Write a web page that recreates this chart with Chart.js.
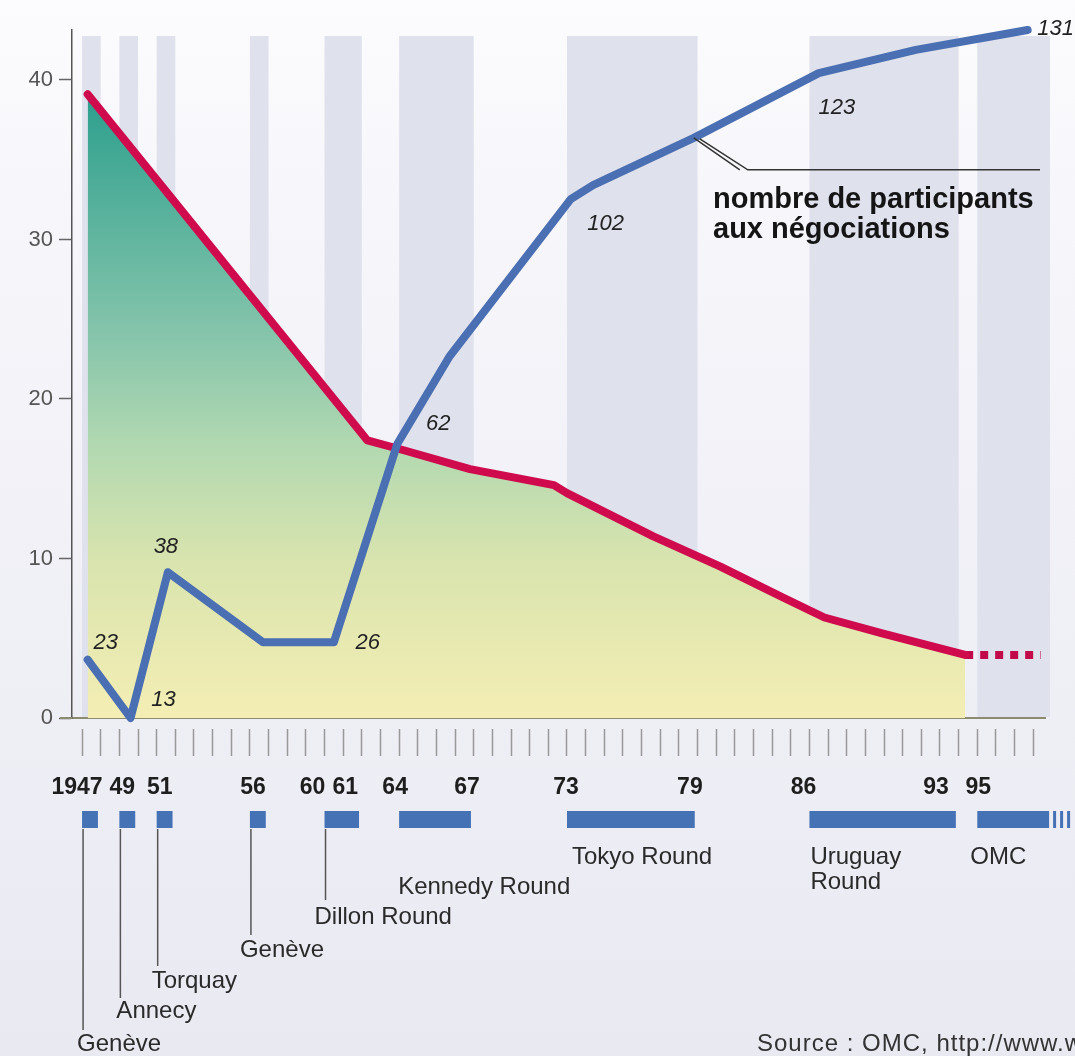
<!DOCTYPE html>
<html lang="fr">
<head>
<meta charset="utf-8">
<title>GATT / OMC - droits de douane et participants</title>
<script src="https://cdn.jsdelivr.net/npm/chart.js@4.4.1/dist/chart.umd.min.js"></script>
<style>
  html, body { margin: 0; padding: 0; background: #f3f3f8; }
  #wrap { width: 1075px; height: 1056px; }
</style>
</head>
<body>
<div id="wrap"><canvas id="gattChart" width="1075" height="1056"></canvas></div>
<script>
// droits de douane moyens (%), courbe rouge
const tariffYears = [1947.3, 1962.3, 1964.2, 1967.8, 1972.3, 1973.0, 1977.6, 1981.2, 1984.5, 1986.8, 1989.9, 1994.35];
const tariffValues = [39.1, 17.4, 16.8, 15.6, 14.6, 14.1, 11.4, 9.5, 7.6, 6.3, 5.3, 3.95];
// prolongement en pointillés
const tariffFutureYears = [1994.35, 1998.4];
const tariffFutureValues = [3.95, 3.95];

// nombre de participants aux négociations, courbe bleue
const partYears = [1947.3, 1949.6, 1951.6, 1956.7, 1960.5, 1963.9, 1966.7, 1973.2, 1974.4, 1979.8, 1986.5, 1991.7, 1997.7];
const partValues = [23, 13, 38, 26, 26, 60, 75, 102, 104.4, 112.5, 123.6, 127.6, 131];
const partLabels = ['23', '13', '38', '', '26', '62', '', '102', '', '', '123', '', '131'];

// cycles de négociation
const roundStart = [1947, 1949, 1951, 1956, 1960, 1964, 1973, 1986, 1995];
const roundEnd = [1947, 1949, 1951, 1956, 1961, 1967, 1979, 1993, 1998];
const roundNames = ['Genève', 'Annecy', 'Torquay', 'Genève', 'Dillon Round', 'Kennedy Round', 'Tokyo Round', 'Uruguay\nRound', 'OMC'];

// axes
const yearLabelValues = [1947, 1949, 1951, 1956, 1960, 1961, 1964, 1967, 1973, 1979, 1986, 1993, 1995];
const yearLabels = ['1947', '49', '51', '56', '60', '61', '64', '67', '73', '79', '86', '93', '95'];
const yTickValues = [0, 10, 20, 30, 40];

const FONT = "'Liberation Sans', Arial, sans-serif";
Chart.defaults.font.family = FONT;

const tickYears = [];
for (let yr = 1947; yr <= 1998; yr++) tickYears.push(yr);

const gattPlugin = {
    id: 'gatt',
    beforeDraw(chart) {
        const { ctx, chartArea: ca } = chart;
        const x = chart.scales.x;
        ctx.save();
        const bg = ctx.createLinearGradient(0, 0, 0, chart.height);
        bg.addColorStop(0, '#fcfcfe');
        bg.addColorStop(0.25, '#f5f5fa');
        bg.addColorStop(1, '#e9e9f2');
        ctx.fillStyle = bg;
        ctx.fillRect(0, 0, chart.width, chart.height);

        // bandes grises des cycles
        ctx.fillStyle = '#dfe1ed';
        roundStart.forEach((s, i) => {
            const x0 = x.getPixelForValue(s);
            const x1 = Math.min(x.getPixelForValue(roundEnd[i] + 1), ca.right + 5);
            ctx.fillRect(x0, ca.top + 6, x1 - x0, ca.bottom - ca.top - 7);
        });
        ctx.restore();
    },
    afterDraw(chart) {
        const { ctx, chartArea: ca } = chart;
        const x = chart.scales.x;
        ctx.save();

        // petit prolongement de l'axe à gauche
        ctx.strokeStyle = '#8b8b70';
        ctx.lineWidth = 2;
        ctx.beginPath();
        ctx.moveTo(60, ca.bottom);
        ctx.lineTo(ca.left, ca.bottom);
        ctx.stroke();

        // barres des cycles sous l'axe
        ctx.fillStyle = '#4571b5';
        roundStart.forEach((s, i) => {
            const x0 = x.getPixelForValue(s);
            const x1 = x.getPixelForValue(roundEnd[i] + 0.85);
            ctx.fillRect(x0, 811, x1 - x0, 17);
            if (i === roundStart.length - 1) {
                [4, 11, 18].forEach(d => ctx.fillRect(x1 + d, 811, 3, 17));
            }
        });

        // années
        const yearNudge = [-5, 3, 3, 3, -12, 2, -4, 12, -1, 11, -6, -4, 1];
        ctx.fillStyle = '#1e1e1e';
        ctx.font = 'bold 23px ' + FONT;
        ctx.textAlign = 'center';
        ctx.textBaseline = 'middle';
        yearLabelValues.forEach((yr, i) => {
            ctx.fillText(yearLabels[i], x.getPixelForValue(yr) + yearNudge[i], 788);
        });

        // noms des cycles, avec traits de rappel pour les premiers
        const lineEnd = [1030, 998, 966, 935, 900];
        const nameDx = [-5, -3, -5, -10, -10, -1, 5, 1, -7];
        const nameY = [1044, 1011, 981, 950, 917, 887, 857, 857, 857];
        ctx.strokeStyle = '#555';
        ctx.lineWidth = 1.5;
        ctx.font = '24px ' + FONT;
        ctx.textAlign = 'left';
        ctx.fillStyle = '#2a2a2a';
        roundStart.forEach((s, i) => {
            const px = x.getPixelForValue(s);
            if (i < lineEnd.length) {
                ctx.beginPath();
                ctx.moveTo(px + 1, 829);
                ctx.lineTo(px + 1, lineEnd[i]);
                ctx.stroke();
            }
            roundNames[i].split('\n').forEach((t, k) => {
                ctx.fillText(t, px + nameDx[i], nameY[i] + k * 25);
            });
        });

        // étiquettes de la courbe bleue
        const meta = chart.getDatasetMeta(0);
        const offs = { 0: [18, -17], 1: [33, -18], 2: [-2, -25], 4: [34, 1], 5: [41, -20], 7: [35, 25], 10: [18, 35], 12: [28, -1] };
        ctx.font = 'italic 22px ' + FONT;
        ctx.textAlign = 'center';
        ctx.fillStyle = '#222';
        partLabels.forEach((lab, i) => {
            if (!lab) return;
            const p = meta.data[i];
            const o = offs[i] || [0, -20];
            ctx.fillText(lab, p.x + o[0], p.y + o[1]);
        });

        // légende de la courbe bleue
        const a = meta.data[9];
        ctx.strokeStyle = '#333';
        ctx.lineWidth = 1.5;
        ctx.beginPath();
        ctx.moveTo(a.x, a.y);
        ctx.lineTo(a.x + 46, a.y + 32);
        ctx.moveTo(a.x + 6, a.y + 1);
        ctx.lineTo(a.x + 54, a.y + 32);
        ctx.lineTo(1040, a.y + 32);
        ctx.stroke();
        ctx.font = 'bold 29px ' + FONT;
        ctx.textAlign = 'left';
        ctx.textBaseline = 'alphabetic';
        ctx.fillStyle = '#151515';
        ctx.fillText('nombre de participants', 713, 208);
        ctx.fillText('aux négociations', 713, 238);

        // source
        ctx.font = '24px ' + FONT;
        ctx.letterSpacing = '1px';
        ctx.fillStyle = '#333';
        ctx.fillText('Source : OMC, http://www.wto.org', 757, 1051);
        ctx.restore();
    }
};

window.addEventListener('DOMContentLoaded', () => {
    const ctx = document.getElementById('gattChart').getContext('2d');

    new Chart(ctx, {
        type: 'line',
        data: {
            datasets: [
                {
                    label: 'participants',
                    data: partYears.map((yr, i) => ({ x: yr, y: partValues[i] })),
                    yAxisID: 'y1',
                    borderColor: '#4a6fb2',
                    borderWidth: 8,
                    borderJoinStyle: 'round',
                    borderCapStyle: 'round',
                    pointRadius: 0,
                    fill: false,
                    clip: 10
                },
                {
                    label: 'droits de douane',
                    data: tariffYears.map((yr, i) => ({ x: yr, y: tariffValues[i] })),
                    yAxisID: 'y',
                    borderColor: '#cf0b4d',
                    borderWidth: 8,
                    borderJoinStyle: 'round',
                    borderCapStyle: 'round',
                    pointRadius: 0,
                    fill: 'origin',
                    backgroundColor: (c) => {
                        const chart = c.chart;
                        if (!chart.chartArea) return '#a8d5b2';
                        const ys = chart.scales.y;
                        const g = chart.ctx.createLinearGradient(0, ys.getPixelForValue(tariffValues[0]), 0, ys.getPixelForValue(0));
                        g.addColorStop(0, '#2c9f8d');
                        g.addColorStop(0.38, '#84c4ab');
                        g.addColorStop(0.57, '#b3d9b1');
                        g.addColorStop(0.75, '#d9e4ae');
                        g.addColorStop(1, '#f4eeb4');
                        return g;
                    }
                },
                {
                    label: 'prolongement',
                    data: tariffFutureYears.map((yr, i) => ({ x: yr, y: tariffFutureValues[i] })),
                    yAxisID: 'y',
                    borderColor: '#c20a4a',
                    borderWidth: 8,
                    borderDash: [8, 7],
                    pointRadius: 0,
                    fill: false
                }
            ]
        },
        options: {
            responsive: false,
            animation: false,
            layout: { padding: { top: 30, right: 30, left: 0, bottom: 0 } },
            plugins: {
                legend: { display: false },
                tooltip: { enabled: false }
            },
            scales: {
                x: {
                    type: 'linear',
                    min: 1946.46,
                    max: 1998.63,
                    afterBuildTicks: s => { s.ticks = tickYears.map(v => ({ value: v })); },
                    afterFit: s => { s.height = 338; },
                    ticks: { display: false },
                    grid: {
                        drawOnChartArea: false,
                        drawTicks: true,
                        tickLength: 38,
                        tickColor: '#999',
                        tickWidth: 1.5,
                        tickBorderDash: [0, 10, 27, 40]
                    },
                    border: { color: '#8b8b70', width: 2 }
                },
                y: {
                    position: 'left',
                    min: 0,
                    max: 43.13,
                    afterBuildTicks: s => { s.ticks = yTickValues.map(v => ({ value: v })); },
                    afterFit: s => { s.width = 72; },
                    ticks: { font: { size: 22 }, color: '#555', padding: 6 },
                    grid: { drawOnChartArea: false, tickLength: 13, tickColor: '#666', tickWidth: 1.5 },
                    border: { color: '#555', width: 1.5 }
                },
                y1: {
                    position: 'right',
                    min: 13,
                    max: 131,
                    display: false
                }
            }
        },
        plugins: [gattPlugin]
    });
});
</script>
</body>
</html>
